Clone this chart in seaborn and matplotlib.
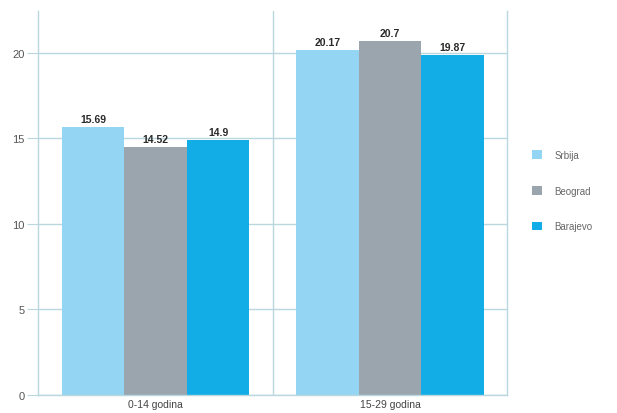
import pandas as pd
import matplotlib
matplotlib.use("Agg")
import matplotlib.pyplot as plt
import seaborn as sns

# Podaci
grupe = ["0-14 godina", "15-29 godina"]
podrucja = ["Srbija", "Beograd", "Barajevo"]
srbija = [15.69, 20.17]
beograd = [14.52, 20.7]
barajevo = [14.9, 19.87]
boje = ["#93d5f2", "#9ba5ad", "#12ade6"]

df = pd.DataFrame({
    "grupa": grupe * 3,
    "podrucje": [p for p in podrucja for _ in grupe],
    "procenat": srbija + beograd + barajevo,
})

sns.set_style("white")
plt.rcParams["font.family"] = ["Liberation Sans", "DejaVu Sans"]

fig = plt.figure(figsize=(6.17, 4.14), dpi=100)
ax = fig.add_axes([0.062, 0.044, 0.76, 0.927])

sns.barplot(data=df, x="grupa", y="procenat", hue="podrucje", order=grupe,
            hue_order=podrucja, palette=boje, width=0.8, saturation=1,
            edgecolor="none", ax=ax)

for cont in ax.containers:
    ax.bar_label(cont, labels=[f"{v:g}" for v in cont.datavalues], padding=2,
                 fontsize=7.5, fontweight="bold", color="#2a2a2a")

ax.set_ylim(0, 22.45)
ax.set_xlim(-0.5, 1.5)
ax.set_yticks([0, 5, 10, 15, 20])
ax.set_xticks([0.5], minor=True)
ax.grid(axis="y", which="major", color="#b9d8de", lw=1)
ax.grid(axis="x", which="minor", color="#b9d8de", lw=1)
ax.set_axisbelow(True)
ax.tick_params(axis="y", length=8, color="#b9d8de", labelsize=8,
               labelcolor="#555555", pad=2, left=True)
ax.tick_params(axis="x", which="both", length=0, labelsize=7.5,
               labelcolor="#444444", pad=3)
ax.set_xlabel("")
ax.set_ylabel("")

for s in ["left", "right", "bottom"]:
    ax.spines[s].set_color("#b9d8de")
    ax.spines[s].set_linewidth(1)
ax.spines["top"].set_visible(False)

leg = ax.legend(loc="center left", bbox_to_anchor=(1.035, 0.532), frameon=False,
                fontsize=7, labelcolor="#666666", handlelength=1.0,
                handleheight=1.0, labelspacing=2.65, handletextpad=1.3)

plt.savefig("out.png", dpi=100)
plt.close()
